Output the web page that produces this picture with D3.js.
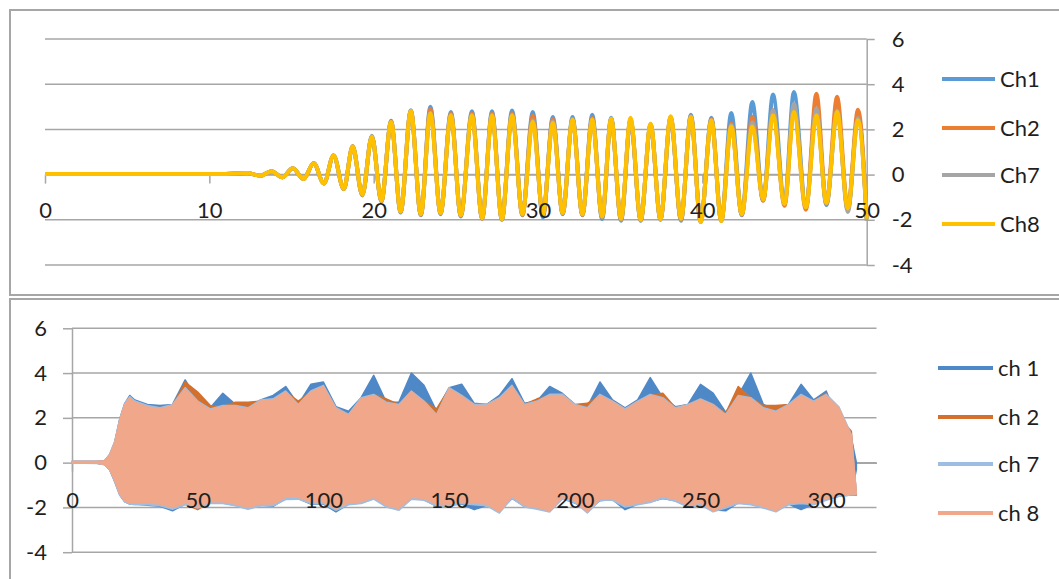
<!DOCTYPE html>
<html><head><meta charset="utf-8">
<script src="https://cdn.jsdelivr.net/npm/d3@7"></script>
<style>
body{margin:0;background:#fff;}
svg{display:block;}
text{font-family:Lato,"Open Sans",sans-serif;fill:#1f1f1f;}
</style>
</head><body>
<svg id="c" width="1059" height="579"></svg>
<script>
// ---------- TOP CHART DATA (extrema) ----------
const topSeries = ["Ch1", "Ch2", "Ch7", "Ch8"];
const topXTicks = [0, 10, 20, 30, 40, 50];
const topYTicks = [-4, -2, 0, 2, 4, 6];
const topX = [
  0, 11, 12.28, 13.1, 13.78, 14.44, 15.08, 15.73,
  16.35, 16.97, 17.56, 18.18, 18.72, 19.31, 19.89, 20.47,
  21.06, 21.64, 22.26, 22.87, 23.45, 24.07, 24.7, 25.3,
  25.98, 26.6, 27.2, 27.8, 28.42, 29.05, 29.68, 30.3,
  30.9, 31.5, 32.1, 32.7, 33.3, 33.9, 34.45, 35.05,
  35.63, 36.25, 36.85, 37.45, 38.07, 38.7, 39.3, 39.9,
  40.55, 41.15, 41.76, 42.4, 43.04, 43.7, 44.3, 45.0,
  45.57, 46.3, 46.94, 47.55, 48.2, 48.85, 49.47, 50.0
];
const topCh1 = [
  0.03, 0.03, 0.07, -0.05, 0.15, -0.12, 0.28, -0.19,
  0.50, -0.39, 0.85, -0.65, 1.25, -0.92, 1.72, -1.20,
  2.38, -1.68, 2.85, -1.80, 3.00, -1.75, 2.77, -1.85,
  2.80, -1.95, 2.80, -2.00, 2.84, -1.80, 2.77, -1.90,
  2.55, -1.75, 2.55, -1.80, 2.65, -1.97, 2.52, -2.04,
  2.40, -2.04, 2.20, -2.00, 2.50, -2.04, 2.65, -2.10,
  2.52, -2.05, 2.73, -1.80, 3.21, -1.15, 3.54, -1.25,
  3.66, -1.40, 2.90, -1.35, 2.90, -1.55, 2.60, -1.95
];
const topCh2 = [
  0.03, 0.03, 0.07, -0.05, 0.15, -0.12, 0.28, -0.19,
  0.50, -0.39, 0.84, -0.64, 1.25, -0.90, 1.70, -1.18,
  2.35, -1.65, 2.83, -1.78, 2.90, -1.72, 2.70, -1.82,
  2.70, -1.95, 2.70, -1.98, 2.70, -1.78, 2.60, -1.80,
  2.45, -1.72, 2.45, -1.78, 2.50, -1.90, 2.45, -2.00,
  2.45, -2.02, 2.22, -1.98, 2.55, -2.00, 2.58, -2.08,
  2.45, -2.05, 2.25, -1.78, 2.55, -1.15, 2.85, -1.38,
  2.90, -1.55, 3.58, -1.30, 3.44, -1.55, 2.87, -1.95
];
const topCh7 = [
  0.03, 0.03, 0.07, -0.05, 0.15, -0.12, 0.28, -0.19,
  0.50, -0.39, 0.84, -0.64, 1.24, -0.89, 1.69, -1.16,
  2.33, -1.63, 2.81, -1.76, 2.75, -1.70, 2.65, -1.80,
  2.65, -1.93, 2.65, -1.97, 2.65, -1.75, 2.40, -1.78,
  2.35, -1.70, 2.45, -1.75, 2.45, -1.88, 2.48, -1.98,
  2.45, -2.00, 2.23, -1.97, 2.56, -1.98, 2.58, -2.08,
  2.42, -2.05, 2.20, -1.76, 2.30, -1.12, 2.84, -1.30,
  3.14, -1.45, 2.92, -1.28, 2.84, -1.65, 2.50, -2.05
];
const topCh8 = [
  0.03, 0.03, 0.07, -0.05, 0.15, -0.12, 0.28, -0.19,
  0.50, -0.39, 0.84, -0.64, 1.24, -0.89, 1.69, -1.16,
  2.33, -1.63, 2.81, -1.75, 2.70, -1.70, 2.62, -1.80,
  2.62, -1.93, 2.62, -1.97, 2.62, -1.75, 2.33, -1.75,
  2.28, -1.70, 2.43, -1.75, 2.43, -1.85, 2.47, -1.95,
  2.52, -2.00, 2.25, -1.97, 2.58, -1.95, 2.55, -2.10,
  2.40, -2.05, 2.13, -1.75, 2.13, -1.10, 2.62, -1.30,
  2.77, -1.45, 2.62, -1.25, 2.77, -1.50, 2.40, -1.95
];
const topColors = ["#5B9BD5", "#ED7D31", "#A5A5A5", "#FFC000"];

// ---------- BOTTOM CHART DATA (upper / lower envelope) ----------
const botSeries = ["ch 1", "ch 2", "ch 7", "ch 8"];
const botXTicks = [0, 50, 100, 150, 200, 250, 300];
const botYTicks = [-4, -2, 0, 2, 4, 6];
const botX = [
  0, 5, 10, 13, 15, 17, 19, 21, 23,
  25, 30, 35, 40, 45, 50, 55, 60, 65, 70,
  75, 80, 85, 90, 95, 100, 105, 110, 115, 120,
  125, 130, 135, 140, 145, 150, 155, 160, 165, 170,
  175, 180, 185, 190, 195, 200, 205, 210, 215, 220,
  225, 230, 235, 240, 245, 250, 255, 260, 265, 270,
  275, 280, 285, 290, 295, 300, 305, 310,
  312
];
const botCh1Hi = [
  0.05, 0.05, 0.05, 0.08, 0.35, 0.90, 1.95, 2.65, 3.00,
  2.80, 2.60, 2.55, 2.60, 3.70, 2.80, 2.45, 3.10, 2.60, 2.45,
  2.80, 3.00, 3.40, 2.60, 3.50, 3.60, 2.50, 2.30, 2.90, 3.90,
  2.70, 2.70, 4.00, 3.45, 2.30, 3.35, 3.50, 2.65, 2.60, 3.00,
  3.75, 2.65, 2.75, 3.40, 3.10, 2.60, 2.50, 3.60, 2.80, 2.45,
  2.80, 3.80, 2.90, 2.50, 2.60, 3.50, 3.10, 2.25, 3.00, 4.00,
  2.60, 2.35, 2.60, 3.50, 2.80, 3.20, 1.80, 1.10,
  0.00
];
const botCh1Lo = [
  -0.02, -0.02, -0.03, -0.08, -0.32, -0.85, -1.45, -1.75, -1.85,
  -1.85, -1.90, -1.95, -2.15, -1.85, -2.00, -1.80, -1.80, -1.90, -2.05,
  -1.90, -1.95, -1.60, -1.60, -1.85, -1.85, -2.20, -1.85, -1.80, -1.60,
  -1.95, -2.05, -1.60, -1.65, -1.95, -1.90, -1.85, -2.10, -1.90, -2.15,
  -1.60, -1.95, -2.05, -2.05, -1.60, -1.80, -2.15, -1.70, -1.65, -2.10,
  -1.85, -1.75, -1.60, -1.70, -1.95, -1.90, -2.10, -2.15, -1.80, -1.85,
  -2.00, -2.10, -1.85, -2.10, -1.85, -1.65, -1.50, -1.45,
  -0.30
];
const botCh2Hi = [
  0.05, 0.05, 0.05, 0.08, 0.35, 0.90, 1.90, 2.60, 2.90,
  2.70, 2.50, 2.45, 2.55, 3.60, 3.15, 2.55, 2.50, 2.70, 2.70,
  2.75, 2.80, 3.15, 2.75, 3.15, 3.40, 2.45, 2.15, 2.85, 3.05,
  2.85, 2.60, 3.20, 2.75, 2.40, 3.30, 3.00, 2.60, 2.60, 2.90,
  3.40, 2.60, 2.85, 3.00, 3.05, 2.60, 2.65, 3.00, 2.75, 2.40,
  2.75, 3.00, 3.10, 2.45, 2.60, 2.85, 2.60, 2.20, 3.40, 2.90,
  2.55, 2.55, 2.60, 3.00, 2.75, 3.10, 2.05, 1.40,
  -1.45
];
const botCh2Lo = [
  -0.02, -0.02, -0.03, -0.08, -0.30, -0.80, -1.40, -1.70, -1.80,
  -1.80, -1.80, -1.85, -2.00, -1.85, -2.10, -1.75, -1.75, -1.85, -2.05,
  -1.85, -1.90, -1.55, -1.55, -1.75, -1.80, -2.05, -1.80, -1.75, -1.55,
  -1.90, -2.05, -1.55, -1.60, -1.85, -1.90, -1.75, -1.80, -1.85, -2.20,
  -1.50, -1.90, -2.00, -2.15, -1.55, -1.70, -2.20, -1.60, -1.60, -1.90,
  -1.80, -1.70, -1.50, -1.65, -1.90, -1.80, -2.15, -1.95, -1.75, -1.80,
  -1.95, -2.15, -1.80, -1.75, -1.80, -1.60, -1.45, -1.45,
  -1.45
];
const botCh7Hi = [
  0.06, 0.06, 0.06, 0.09, 0.38, 0.95, 1.95, 2.65, 2.95,
  2.75, 2.55, 2.45, 2.60, 3.35, 2.75, 2.40, 2.55, 2.55, 2.45,
  2.80, 2.85, 3.20, 2.60, 3.20, 3.45, 2.45, 2.15, 2.90, 3.05,
  2.70, 2.60, 3.20, 2.75, 2.15, 3.35, 3.00, 2.60, 2.60, 2.90,
  3.45, 2.60, 2.75, 3.05, 3.05, 2.60, 2.45, 3.05, 2.75, 2.40,
  2.75, 3.05, 2.90, 2.45, 2.60, 2.85, 2.60, 2.15, 3.00, 2.90,
  2.45, 2.30, 2.60, 3.05, 2.75, 3.05, 2.50, 1.25,
  -1.40
];
const botCh7Lo = [
  -0.03, -0.03, -0.04, -0.09, -0.33, -0.85, -1.45, -1.75, -1.85,
  -1.88, -1.88, -1.93, -2.08, -1.88, -2.03, -1.83, -1.83, -1.93, -2.08,
  -1.93, -1.93, -1.65, -1.63, -1.83, -1.83, -2.13, -1.88, -1.83, -1.63,
  -1.98, -2.13, -1.63, -1.68, -1.93, -1.93, -1.83, -1.88, -1.93, -2.25,
  -1.58, -1.98, -2.08, -2.20, -1.63, -1.78, -2.25, -1.68, -1.68, -1.98,
  -1.88, -1.78, -1.58, -1.73, -1.98, -1.88, -2.20, -2.03, -1.83, -1.88,
  -2.03, -2.20, -1.88, -1.83, -1.88, -1.68, -1.50, -1.45,
  -1.40
];
const botCh8Hi = [
  0.05, 0.05, 0.05, 0.08, 0.35, 0.90, 1.90, 2.60, 2.90,
  2.70, 2.50, 2.40, 2.55, 3.30, 2.70, 2.35, 2.50, 2.50, 2.40,
  2.75, 2.80, 3.15, 2.55, 3.15, 3.40, 2.40, 2.10, 2.85, 3.00,
  2.65, 2.55, 3.15, 2.70, 2.10, 3.30, 2.95, 2.55, 2.55, 2.85,
  3.40, 2.55, 2.70, 3.00, 3.00, 2.55, 2.40, 3.00, 2.70, 2.35,
  2.70, 3.00, 2.85, 2.40, 2.55, 2.80, 2.55, 2.10, 2.95, 2.85,
  2.40, 2.25, 2.55, 3.00, 2.70, 3.00, 2.45, 1.20,
  -1.40
];
const botCh8Lo = [
  -0.02, -0.02, -0.03, -0.08, -0.30, -0.80, -1.40, -1.70, -1.80,
  -1.80, -1.80, -1.85, -2.00, -1.80, -1.95, -1.75, -1.75, -1.85, -2.00,
  -1.85, -1.85, -1.55, -1.55, -1.75, -1.75, -2.05, -1.80, -1.75, -1.55,
  -1.90, -2.05, -1.55, -1.60, -1.85, -1.85, -1.75, -1.80, -1.85, -2.20,
  -1.50, -1.90, -2.00, -2.15, -1.55, -1.70, -2.20, -1.60, -1.60, -1.90,
  -1.80, -1.70, -1.50, -1.65, -1.90, -1.80, -2.15, -1.95, -1.75, -1.80,
  -1.95, -2.15, -1.80, -1.75, -1.80, -1.60, -1.45, -1.40,
  -1.40
];
const botColors = ["#4F88C6", "#D4702C", "#9DBEE3", "#F0A78A"];

// ---------- DRAWING ----------
const svg = d3.select("#c");
const GRID = "#a6a6a6";
const fmt = d => String(d); // plain hyphen-minus, as in the picture

// panel borders
svg.append("rect").attr("x", 10).attr("y", 10).attr("width", 1070).attr("height", 285)
  .attr("fill", "none").attr("stroke", GRID).attr("stroke-width", 2);
svg.append("rect").attr("x", 10).attr("y", 299).attr("width", 1070).attr("height", 300)
  .attr("fill", "none").attr("stroke", GRID).attr("stroke-width", 2);

function styleAxisLines(g) {
  g.selectAll("path.domain").attr("stroke", GRID).attr("stroke-width", 1.5);
  g.selectAll(".tick line").attr("stroke", GRID).attr("stroke-width", 1.5);
  g.selectAll("text").remove();
}
function styleAxisText(g, size) {
  g.selectAll("path.domain").remove();
  g.selectAll(".tick line").remove();
  g.selectAll("text").attr("font-size", size).attr("fill", "#1f1f1f")
    .style("font-family", "Lato, 'Open Sans', sans-serif");
}

// ===== TOP =====
const xT = d3.scaleLinear().domain([0, 50]).range([45, 866.7]);
const yT = d3.scaleLinear().domain([-4, 6]).range([265, 39]);

svg.append("g").selectAll("line").data(topYTicks).join("line")
  .attr("x1", xT(0)).attr("x2", xT(50))
  .attr("y1", d => yT(d)).attr("y2", d => yT(d))
  .attr("stroke", GRID).attr("stroke-width", 1.5);

const axRT = d3.axisRight(yT).tickValues(topYTicks).tickFormat(fmt).tickSize(8).tickPadding(17).tickSizeOuter(0);
const axBT = d3.axisBottom(xT).tickValues(topXTicks).tickFormat(fmt).tickSize(9).tickPadding(19).tickSizeOuter(0);
svg.append("g").attr("transform", `translate(${xT(50)},0)`).call(axRT).call(styleAxisLines);
svg.append("g").attr("transform", `translate(0,${yT(0)})`).call(axBT).call(styleAxisLines);

const topData = [topCh1, topCh2, topCh7, topCh8];
const lineT = vals => d3.line()
  .x((d, i) => xT(topX[i]))
  .y(d => yT(d))
  .curve(d3.curveMonotoneX)(vals);
svg.append("g").selectAll("path").data(topData).join("path")
  .attr("d", d => lineT(d))
  .attr("fill", "none")
  .attr("stroke", (d, i) => topColors[i])
  .attr("stroke-width", 4)
  .attr("stroke-linejoin", "round");

svg.append("g").attr("transform", `translate(${xT(50)},0)`).call(axRT).call(g => styleAxisText(g, 22));
svg.append("g").attr("transform", `translate(0,${yT(0)})`).call(axBT).call(g => styleAxisText(g, 22));

// top legend
const legT = svg.append("g");
const legTY = [79, 128, 175, 224];
topSeries.forEach((name, i) => {
  legT.append("line").attr("x1", 942).attr("x2", 995).attr("y1", legTY[i]).attr("y2", legTY[i])
    .attr("stroke", topColors[i]).attr("stroke-width", 4);
  legT.append("text").attr("x", 1000).attr("y", legTY[i]).attr("dy", "0.35em")
    .attr("font-size", 22).text(name);
});

// ===== BOTTOM =====
const xB = d3.scaleLinear().domain([0, 320]).range([72, 876.5]);
const yB = d3.scaleLinear().domain([-4, 6]).range([552.2, 328.3]);

svg.append("g").selectAll("line").data(botYTicks).join("line")
  .attr("x1", xB(0)).attr("x2", xB(320))
  .attr("y1", d => yB(d)).attr("y2", d => yB(d))
  .attr("stroke", GRID).attr("stroke-width", 1.5);

const axLB = d3.axisLeft(yB).tickValues(botYTicks).tickFormat(fmt).tickSize(9).tickPadding(16).tickSizeOuter(0);
const axBB = d3.axisBottom(xB).tickValues(botXTicks).tickFormat(fmt).tickSize(9).tickPadding(21).tickSizeOuter(0);
svg.append("g").attr("transform", `translate(${xB(0)},0)`).call(axLB).call(styleAxisLines);
svg.append("g").attr("transform", `translate(0,${yB(0)})`).call(axBB).call(styleAxisLines);

const botHi = [botCh1Hi, botCh2Hi, botCh7Hi, botCh8Hi];
const botLo = [botCh1Lo, botCh2Lo, botCh7Lo, botCh8Lo];
const areaB = d3.area()
  .x(d => xB(d.x))
  .y0(d => yB(d.lo))
  .y1(d => yB(d.hi))
  .curve(d3.curveLinear);
botSeries.forEach((name, s) => {
  const pts = botX.map((x, i) => ({ x: x, hi: botHi[s][i], lo: botLo[s][i] }));
  svg.append("path").attr("d", areaB(pts))
    .attr("fill", botColors[s])
    .attr("stroke", botColors[s]).attr("stroke-width", 1.5)
    .attr("stroke-linejoin", "round");
});

svg.append("g").attr("transform", `translate(${xB(0)},0)`).call(axLB).call(g => styleAxisText(g, 22));
svg.append("g").attr("transform", `translate(0,${yB(0)})`).call(axBB).call(g => styleAxisText(g, 22));

// bottom legend
const legB = svg.append("g");
const legBY = [368, 417, 464, 513];
botSeries.forEach((name, i) => {
  legB.append("line").attr("x1", 938).attr("x2", 993).attr("y1", legBY[i]).attr("y2", legBY[i])
    .attr("stroke", botColors[i]).attr("stroke-width", 4);
  legB.append("text").attr("x", 998).attr("y", legBY[i]).attr("dy", "0.35em")
    .attr("font-size", 22).text(name);
});
</script>
</body></html>
